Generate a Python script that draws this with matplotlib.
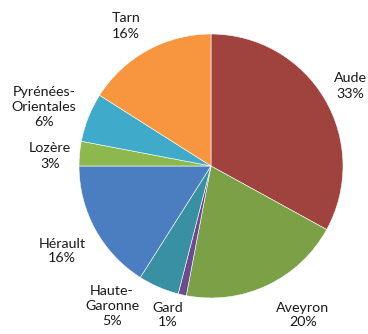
import matplotlib
matplotlib.use('Agg')
import matplotlib.pyplot as plt

# departements, clockwise from 12 o'clock
names = ['Aude', 'Aveyron', 'Gard', 'Haute-\nGaronne', 'Hérault', 'Lozère',
         'Pyrénées-\nOrientales', 'Tarn']
shares = [33, 20, 1, 5, 16, 3, 6, 16]
colors = ['#A0423E', '#7BA046', '#6B4A8E', '#3A90A3', '#4A7EC0', '#8CB84E',
          '#40AACB', '#F7963F']

# label anchor points (pixels, from top-left), one per slice
label_xy = [(350, 86), (303, 315), (168, 315), (112, 306), (62, 251), (50, 156),
            (44, 107), (126, 26)]

W, H = 368, 334
fig = plt.figure(figsize=(W / 100, H / 100), dpi=100)
ax = fig.add_axes([0, 0, 1, 1])

ax.pie(shares, colors=colors, startangle=90, counterclock=False,
       center=(211, H - 166), radius=132,
       wedgeprops=dict(linewidth=0.4, edgecolor='white'))
# pie() sets its own limits, so put the pixel frame back afterwards
ax.set_xlim(0, W)
ax.set_ylim(0, H)
ax.set_aspect('equal')
ax.axis('off')

for name, val, (x, y) in zip(names, shares, label_xy):
    ax.text(x, H - y, name + '\n' + str(val) + '%', ha='center', va='center',
            fontsize=10.3, family='Lato', color='#1a1a1a', linespacing=1.3)

fig.savefig('out.png', dpi=100)
